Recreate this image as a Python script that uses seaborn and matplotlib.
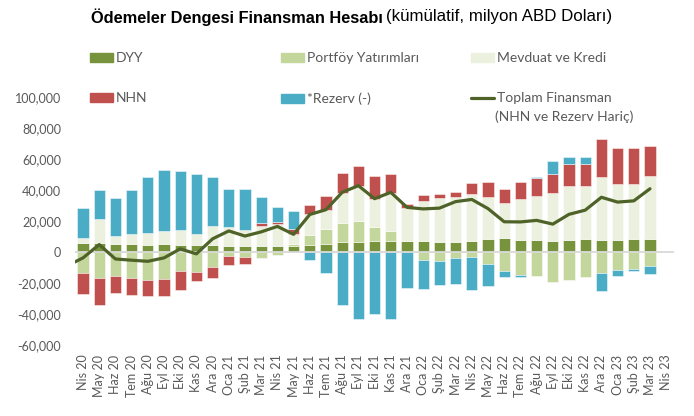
import numpy as np
import pandas as pd
import matplotlib
matplotlib.use("Agg")
import matplotlib.pyplot as plt
import seaborn as sns
from matplotlib import font_manager as fm
from matplotlib.patches import Patch
from matplotlib.lines import Line2D
from matplotlib.ticker import FuncFormatter

# ---------------- data (milyon ABD Doları, kümülatif) ----------------
months = ["Nis 20", "May 20", "Haz 20", "Tem 20", "Ağu 20", "Eyl 20", "Eki 20", "Kas 20",
          "Ara 20", "Oca 21", "Şub 21", "Mar 21", "Nis 21", "May 21", "Haz 21", "Tem 21",
          "Ağu 21", "Eyl 21", "Eki 21", "Kas 21", "Ara 21", "Oca 22", "Şub 22", "Mar 22",
          "Nis 22", "May 22", "Haz 22", "Tem 22", "Ağu 22", "Eyl 22", "Eki 22", "Kas 22",
          "Ara 22", "Oca 23", "Şub 23", "Mar 23", "Nis 23"]

dyy = [5600, 5600, 5200, 5200, 4300, 5200, 4500, 4500, 4500, 3700,
       3700, 3700, 3700, 3700, 4300, 5400, 6300, 6300, 7100, 7100,
       7100, 7100, 6300, 6300, 7100, 8400, 9000, 7500, 7500, 6900,
       7500, 8400, 7500, 7500, 8400, 8400]
portfoy = [-13500, -16800, -15500, -16800, -18300, -17600, -12300, -12900, -9700, -2300,
           -3200, -3600, -1700, 1700, 6900, 9200, 12400, 13500, 9000, 6300,
           0, -4900, -5800, -3900, -3200, -7900, -12300, -14600, -15300, -19500,
           -18300, -16100, -13500, -11800, -10700, -8800]
mevduat = [3400, 15900, 5400, 6200, 7800, 8300, 9500, 7400, 12300, 12400,
           10300, 13300, 14200, 6000, 13100, 12300, 19400, 23100, 17900, 24700,
           21300, 25900, 28500, 29000, 30100, 27300, 22900, 26500, 28400, 31200,
           35400, 34200, 40900, 36600, 35700, 40600]
nhn = [-13800, -17100, -10900, -11100, -10300, -11000, -12000, -6000, -7100, -6300,
       -4700, 1700, 1700, 3700, 6300, 9000, 13100, 12400, 15000, 12500,
       2400, 3800, 2900, 3700, 7300, 9300, 9000, 11000, 11800, 12000,
       13700, 14400, 24700, 22800, 22800, 19400]
rezerv = [19600, 18700, 24000, 28800, 36300, 39600, 38000, 38400, 31600, 24800,
          26900, 16600, 9400, 11300, -5300, -13500, -33900, -43000, -40200, -43000,
          -23000, -18700, -15700, -16900, -21100, -14200, -3800, -1500, 700, 8600,
          4700, 4300, -11700, -3900, -1600, -5400]
toplam = [-3800, 4800, -4500, -5300, -6000, -3800, 2000, -1200, 8500, 13600,
          10300, 13000, 16500, 11400, 24200, 27300, 38500, 42800, 34400, 38500,
          28800, 27800, 28300, 32500, 33900, 28000, 19500, 19400, 20400, 18000,
          24300, 27000, 35300, 32200, 33000, 40800]
toplam_mar20 = -9000  # previous month, clipped at the left edge

# ---------------- style ----------------
W, H = 694, 416
sns.set_theme(style="white")
plt.rcParams["font.family"] = ["Lato", "DejaVu Sans"]
names = {f.name for f in fm.fontManager.ttflist}
narrow = "Liberation Sans Narrow" in names
title_font = ["Liberation Sans Narrow" if narrow else "Liberation Sans", "DejaVu Sans"]
bold_size = 12.5 if narrow else 11.8
reg_size = 12.5 if narrow else 12.2

c_dyy, c_port, c_mev, c_nhn, c_rez, c_line = "#77933C", "#C3D69B", "#EBF1DE", "#C0504D", "#4BACC6", "#4F6228"
gray = "#595959"

fig = plt.figure(figsize=(W / 100, H / 100), dpi=100)
ax = fig.add_axes([74.9 / W, 71 / H, (674.3 - 74.9) / W, (345 - 97) / H])

series = [("DYY", dyy, c_dyy), ("Portföy Yatırımları", portfoy, c_port),
          ("Mevduat ve Kredi", mevduat, c_mev), ("NHN", nhn, c_nhn), ("*Rezerv (-)", rezerv, c_rez)]
n = len(dyy)
x = np.arange(n)
pos_base = np.zeros(n)
neg_base = np.zeros(n)
for name, vals, col in series:
    v = np.asarray(vals, dtype=float)
    bottom = np.where(v >= 0, pos_base, neg_base)
    ax.bar(x, v, bottom=bottom, width=0.68, color=col, edgecolor=(1, 1, 1, 0.55),
           linewidth=0.6, zorder=2)
    pos_base += np.where(v > 0, v, 0)
    neg_base += np.where(v < 0, v, 0)

ax.axhline(0, color="#D9D9D9", lw=1.3, zorder=3)

line_df = pd.DataFrame({"x": np.arange(-1, n), "y": [toplam_mar20] + toplam})
sns.lineplot(data=line_df, x="x", y="y", ax=ax, color=c_line, linewidth=2.3,
             sort=False, zorder=4)

ax.set_xlim(-0.5, len(months) - 0.5)
ax.set_ylim(-60000, 100000)
ax.set_yticks(np.arange(-60000, 100001, 20000))
ax.yaxis.set_major_formatter(FuncFormatter(lambda v, p: f"{v:,.0f}"))
ax.set_xticks(np.arange(len(months)))
ax.set_xticklabels(months, rotation=90)
ax.tick_params(axis="both", length=0, labelsize=9, colors=gray)
ax.tick_params(axis="y", pad=10)
ax.tick_params(axis="x", pad=7)
ax.set_xlabel("")
ax.set_ylabel("")
for s in ax.spines.values():
    s.set_visible(False)
ax.grid(False)

# ---------------- legend ----------------
leg_kw = dict(loc="upper left", frameon=False, fontsize=10, handlelength=1.65,
              handleheight=0.6, handletextpad=0.2, labelspacing=2.05, borderpad=0,
              borderaxespad=0, labelcolor=gray)
top_y = 1 - 52 / H
fig.legend([Patch(color=c_dyy), Patch(color=c_nhn)], ["DYY", "NHN"],
           bbox_to_anchor=(90 / W, top_y), **leg_kw)
fig.legend([Patch(color=c_port), Patch(color=c_rez)], ["Portföy Yatırımları", "*Rezerv (-)"],
           bbox_to_anchor=(281 / W, top_y), **leg_kw)
fig.legend([Patch(color=c_mev), Line2D([], [], color=c_line, lw=2.3)],
           ["Mevduat ve Kredi", "Toplam Finansman"],
           bbox_to_anchor=(471 / W, top_y), **leg_kw)
fig.text(495 / W, 1 - 117 / H, "(NHN ve Rezerv Hariç)", fontsize=10, color=gray,
         ha="left", va="center")

# ---------------- title ----------------
t1 = fig.text(91 / W, 1 - 17 / H, "Ödemeler Dengesi Finansman Hesabı", fontsize=bold_size,
              fontweight="bold", family=title_font, color="black", ha="left", va="center")
fig.canvas.draw()
bb = t1.get_window_extent(renderer=fig.canvas.get_renderer())
fig.text(bb.x1 / W + 3 / W, 1 - 17 / H, "(kümülatif, milyon ABD Doları)", fontsize=reg_size,
         family=title_font, color="black", ha="left", va="center")

fig.savefig("out.png", dpi=100)
